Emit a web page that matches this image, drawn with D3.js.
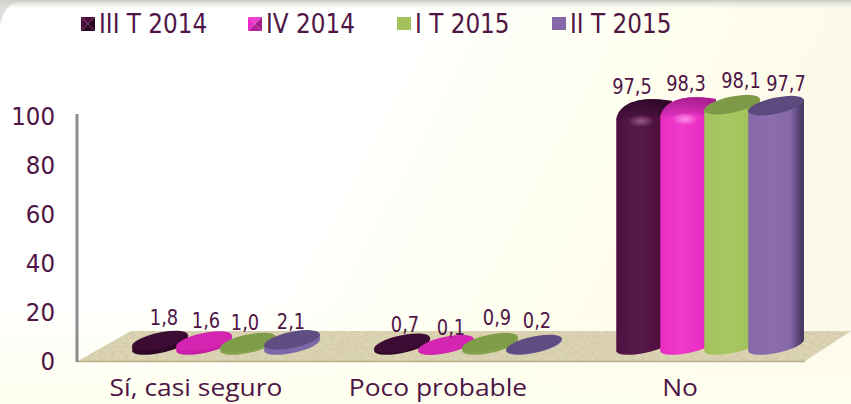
<!DOCTYPE html>
<html><head><meta charset="utf-8">
<script src="https://cdn.jsdelivr.net/npm/d3@7/dist/d3.min.js"></script>
<style>html,body{margin:0;padding:0;background:#fff}svg{display:block}</style>
</head><body><svg id="c" width="851" height="404"></svg>
<script>
const categories = ["Sí, casi seguro", "Poco probable", "No"];
const seriesNames = ["III T 2014", "IV 2014", "I T 2015", "II T 2015"];
const serie1 = [1.8, 0.7, 97.5];
const serie2 = [1.6, 0.1, 98.3];
const serie3 = [1.0, 0.9, 98.1];
const serie4 = [2.1, 0.2, 97.7];
const yTicks = [0, 20, 40, 60, 80, 100];

const allSeries = [serie1, serie2, serie3, serie4];
const colors = [
  {base:"#4f1040", dark:"#36082c", light:"#581a4a", top:"#2f0828", hi:"#a0668f", disc:"#3d0c34", side:"#2f0828"},
  {base:"#ea2cc4", dark:"#a81d8e", light:"#ee3ccb", top:"#a51d8c", hi:"#ff9cec", disc:"#d424b2", side:"#c71fa6"},
  {base:"#a3c25b", dark:"#7b9644", light:"#a9c863", top:"#7e9a49", hi:null, disc:"#7f9c49", side:"#86a34d"},
  {base:"#8668a9", dark:"#3e3358", light:"#8b6eae", top:"#5c4a7f", hi:null, disc:"#5e4c83", side:"#7f68a8"}
];
// hand-placed label offsets of the original, kept apart from the data
const labelNudge = [
  [[4,-16],[3,-11],[-12,-12]],
  [[2,-13],[5,-10],[-2,-13]],
  [[-3,-13],[7,-18],[9,-17]],
  [[-1,-11],[3,-17],[10,-15]]
];

const font = "'DejaVu Sans'", ink = "#4f1545";
const svg = d3.select("#c");
const defs = svg.append("defs");

const bg = defs.append("linearGradient").attr("id","bg").attr("x1",0).attr("x2",1).attr("y1",0).attr("y2",0.25);
bg.append("stop").attr("offset","0").attr("stop-color","#ffffff");
bg.append("stop").attr("offset","0.45").attr("stop-color","#ffffff");
bg.append("stop").attr("offset","0.75").attr("stop-color","#fffff0");
bg.append("stop").attr("offset","1").attr("stop-color","#fcf8e8");
const bg2 = defs.append("linearGradient").attr("id","bg2").attr("x1",0).attr("x2",0).attr("y1",0).attr("y2",1);
bg2.append("stop").attr("offset","0").attr("stop-color","#fffff0").attr("stop-opacity",0);
bg2.append("stop").attr("offset","1").attr("stop-color","#fffff0").attr("stop-opacity",1);
const shade = defs.append("linearGradient").attr("id","shade").attr("x1",0).attr("x2",0).attr("y1",0).attr("y2",1);
shade.append("stop").attr("offset","0").attr("stop-color","#c9c9c4");
shade.append("stop").attr("offset","1").attr("stop-color","#ffffff").attr("stop-opacity",0);

const tex = defs.append("filter").attr("id","tex").attr("x",0).attr("y",0).attr("width",1).attr("height",1);
tex.append("feTurbulence").attr("type","fractalNoise").attr("baseFrequency","0.2 0.45").attr("numOctaves",2).attr("seed",4).attr("result","n");
tex.append("feColorMatrix").attr("in","n").attr("type","matrix")
   .attr("values","0 0 0 0 0.6  0 0 0 0 0.55  0 0 0 0 0.38  1.4 0 0 0 -0.45").attr("result","m");
tex.append("feComposite").attr("in","m").attr("in2","SourceGraphic").attr("operator","in").attr("result","c");
const mg = tex.append("feMerge"); mg.append("feMergeNode").attr("in","SourceGraphic"); mg.append("feMergeNode").attr("in","c");

svg.append("rect").attr("width",851).attr("height",404).attr("fill","url(#bg)");
svg.append("rect").attr("y",300).attr("width",851).attr("height",104).attr("fill","url(#bg2)");
svg.append("rect").attr("y",0).attr("width",851).attr("height",11).attr("fill","url(#shade)");
svg.append("path").attr("d","M0,0H22C10,2 3,10 0,26Z").attr("fill","#d2d2cd").attr("opacity",0.7);

const x0 = d3.scaleBand().domain(categories).range([105, 831]);
const x1 = d3.scalePoint().domain(d3.range(seriesNames.length)).range([-66, 66]);
const y = d3.scaleLinear().domain([0, 100]).range([360, 115]);
const scaleH = v => y(0) - y(v);
const baseY = 345, A = 28.5, B = 8, PHI = -12 * Math.PI / 180;
const cx = (c, s) => x0(c) + x0.bandwidth() / 2 + x1(s);

// floor
const floorY = [361, 331];
svg.append("path")
  .attr("d", `M78,${floorY[0]}L131,${floorY[1]}H851L805,${floorY[0]}Z`)
  .attr("fill", "#ddd5b3").attr("filter","url(#tex)");
svg.append("path").attr("d", `M78,${floorY[0]+0.5}H805`).attr("stroke","#b9ae88").attr("stroke-width",1.5).attr("fill","none");

// y axis
const yAxis = svg.append("g").attr("transform","translate(55,0)")
  .call(d3.axisLeft(y).tickValues(yTicks).tickSize(0).tickPadding(0));
yAxis.select(".domain").remove();
yAxis.selectAll("text").attr("font-family",font).attr("font-size",25.5).attr("fill",ink)
  .attr("dy","0.36em").attr("transform","scale(0.9,1)");
svg.append("line").attr("x1",77).attr("x2",77).attr("y1",114).attr("y2",362).attr("stroke","#8c8c8c").attr("stroke-width",3);

// x axis
const xAxis = svg.append("g").attr("transform","translate(-30,379)")
  .call(d3.axisBottom(x0).tickSize(0).tickPadding(0));
xAxis.select(".domain").remove();
xAxis.selectAll("text").attr("font-family","'Open Sans'").attr("font-size",24).attr("fill",ink)
  .attr("transform","scale(1.1,1)");

// tilted ellipse helper
const tT = Math.atan(-(B / A) * Math.tan(PHI));
function ept(c, yc, th) {
  return [c + A*Math.cos(th)*Math.cos(PHI) - B*Math.sin(th)*Math.sin(PHI),
          yc + A*Math.cos(th)*Math.sin(PHI) + B*Math.sin(th)*Math.cos(PHI)];
}
const rot = PHI * 180 / Math.PI;

allSeries.forEach((vals, s) => {
  const col = colors[s];
  const g = defs.append("linearGradient").attr("id","cyl"+s).attr("x1",0).attr("x2",1).attr("y1",0).attr("y2",0);
  [[0,col.base],[0.4,col.light],[0.75,col.base],[1,col.dark]].forEach(([o,c]) =>
    g.append("stop").attr("offset",o).attr("stop-color",c));
  if (col.hi) {
    const r = defs.append("radialGradient").attr("id","hi"+s);
    r.append("stop").attr("offset",0).attr("stop-color",col.hi).attr("stop-opacity",0.85);
    r.append("stop").attr("offset",1).attr("stop-color",col.hi).attr("stop-opacity",0);
    const d = defs.append("linearGradient").attr("id","dome"+s).attr("x1",0).attr("x2",0).attr("y1",0).attr("y2",1);
    d.append("stop").attr("offset",0).attr("stop-color",col.top);
    d.append("stop").attr("offset",1).attr("stop-color",col.top).attr("stop-opacity",0);
  }
});

const marks = svg.append("g");
categories.forEach((c, ci) => {
  allSeries.forEach((vals, s) => {
    const v = vals[ci], col = colors[s], xc = cx(c, s), ty = baseY - scaleH(v);
    const bl = ept(xc, baseY, Math.PI - tT), br = ept(xc, baseY, tT);
    const tl = [bl[0], ty + (bl[1]-baseY)], tr = [br[0], ty + (br[1]-baseY)];
    const tall = scaleH(v) > 60;
    const bottom = `M${tl}L${bl}A${A},${B},${rot},0,0,${br}L${tr}`;
    if (tall && col.hi) {
      const W = br[0] - xc;
      const d = bottom + `C${xc+W},${ty-5} ${xc+W-6},${ty-7} ${xc+8},${ty-7}C${xc-12},${ty-7} ${xc-W},${ty} ${xc-W},${ty+17}Z`;
      marks.append("path").attr("d", d).attr("fill",`url(#cyl${s})`);
      marks.append("path").attr("d", `M${xc+W},${ty+14}L${xc+W},${ty+3}C${xc+W},${ty-5} ${xc+W-6},${ty-7} ${xc+8},${ty-7}C${xc-12},${ty-7} ${xc-W},${ty} ${xc-W},${ty+17}Q${xc},${ty+4} ${xc+W},${ty+14}Z`).attr("fill",`url(#dome${s})`);
      marks.append("ellipse").attr("cx",xc-3).attr("cy",ty+15).attr("rx",13).attr("ry",6).attr("fill",`url(#hi${s})`);
    } else {
      marks.append("path").attr("d", bottom + `A${A},${B},${rot},0,0,${tl}Z`)
        .attr("fill", tall ? `url(#cyl${s})` : col.side);
      marks.append("ellipse").attr("cx",xc).attr("cy",ty).attr("rx",A).attr("ry",B)
        .attr("transform",`rotate(${rot},${xc},${ty})`)
        .attr("fill", tall ? col.top : col.disc);
    }
  });
});

// data labels
const labels = svg.append("g");
categories.forEach((c, ci) => {
  allSeries.forEach((vals, s) => {
    const v = vals[ci], n = labelNudge[s][ci];
    labels.append("text")
      .attr("transform", `translate(${cx(c, s) + n[0]},${baseY - scaleH(v) + n[1]}) scale(0.87,1)`)
      .attr("text-anchor","middle").attr("font-family",font).attr("font-size",20.5)
      .attr("fill",ink).text(d3.format(".1f")(v).replace(".", ","));
  });
});

// legend
const legendPos = [81, 248, 397, 552];
seriesNames.forEach((n, i) => {
  const col = colors[i], gg = svg.append("g").attr("transform",`translate(${legendPos[i]},17)`), S = 14;
  if (col.hi) {
    gg.append("path").attr("d",`M0,0H${S}L${S/2},${S/2}Z`).attr("fill",i?"#ee3ccb":"#4f1040");
    gg.append("path").attr("d",`M0,0V${S}L${S/2},${S/2}Z`).attr("fill",i?"#ea2cc4":"#4a0f3c");
    gg.append("path").attr("d",`M${S},0V${S}L${S/2},${S/2}Z`).attr("fill",i?"#a51d8c":"#2a0624");
    gg.append("path").attr("d",`M0,${S}H${S}L${S/2},${S/2}Z`).attr("fill",i?"#b51f99":"#2f0828");
  } else {
    gg.append("rect").attr("width",S).attr("height",S-1).attr("fill",col.base);
  }
  gg.append("text").attr("transform","translate(18,15.5) scale(0.89,1)").attr("font-family",font).attr("font-size",26).attr("fill",ink).text(n);
});
</script></body></html>
